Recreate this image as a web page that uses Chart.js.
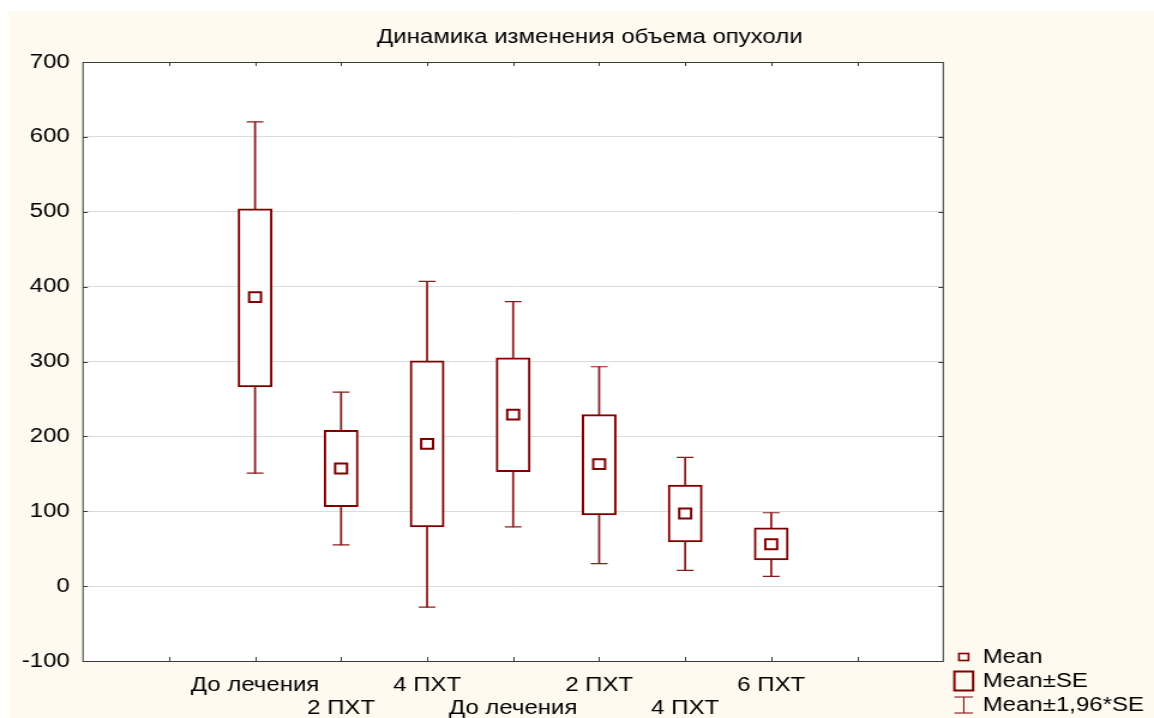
<!DOCTYPE html>
<html lang="ru">
<head>
<meta charset="utf-8">
<title>Динамика изменения объема опухоли</title>
<script src="https://cdn.jsdelivr.net/npm/chart.js@4/dist/chart.umd.min.js"></script>
<style>
  html, body { margin: 0; padding: 0; background: #ffffff; overflow: hidden; }
</style>
</head>
<body>
<!-- the drawing buffer is narrower than the page and is widened by CSS -->
<canvas id="chart" width="962" height="718" style="display:block;width:1154px;height:718px"></canvas>
<script>
// Groups (one box per measurement point)
const categories = ['До лечения', '2 ПХТ', '4 ПХТ', 'До лечения', '2 ПХТ', '4 ПХТ', '6 ПХТ'];
// Mean tumour volume
const means  = [386, 157, 190, 229, 163, 97, 56];
// Mean ± SE
const seLow  = [266, 106, 79, 153, 95, 59, 35];
const seHigh = [504, 208, 301, 305, 229, 135, 78];
// Mean ± 1,96*SE
const ciLow  = [151, 55, -28, 79, 30, 21, 13];
const ciHigh = [620, 259, 407, 380, 293, 172, 98];
// Value axis ticks
const yTicks = [-100, 0, 100, 200, 300, 400, 500, 600, 700];
const titleText = 'Динамика изменения объема опухоли';
const legendLabels = ['Mean', 'Mean±SE', 'Mean±1,96*SE'];

// two empty slots on each side of the groups
const LEAD = 2, TRAIL = 2;
const slotLabels = [...Array(LEAD).fill(''), ...categories, ...Array(TRAIL).fill('')];
const pad = arr => [...Array(LEAD).fill(null), ...arr, ...Array(TRAIL).fill(null)];

const RED = '#800000';
const PANEL = '#FFFAF0';
const FONT = '"Liberation Sans", Arial, sans-serif';

const decor = {
  id: 'decor',
  beforeDraw(chart) {
    const { ctx, width, height, chartArea: a } = chart;
    ctx.save();
    ctx.fillStyle = '#ffffff';
    ctx.fillRect(0, 0, width, height);
    ctx.fillStyle = PANEL;
    ctx.fillRect(7.5, 11, width - 7.5, height - 11);
    ctx.fillStyle = '#ffffff';
    ctx.fillRect(a.left, a.top, a.right - a.left, a.bottom - a.top);
    ctx.restore();
  },
  afterDraw(chart) {
    const { ctx, chartArea: a, scales } = chart;
    ctx.save();
    // frame
    ctx.strokeStyle = '#3a3a3a';
    ctx.lineWidth = 1;
    ctx.strokeRect(a.left, a.top + 0.5, a.right - a.left, a.bottom - a.top);
    // inward tick marks
    ctx.beginPath();
    for (let i = 1; i < slotLabels.length - 1; i++) {
      const px = Math.round(scales.x.getPixelForValue(i)) + 0.5;
      ctx.moveTo(px, a.bottom); ctx.lineTo(px, a.bottom - 4);
      ctx.moveTo(px, a.top); ctx.lineTo(px, a.top + 4);
    }
    for (const v of yTicks) {
      const py = Math.round(scales.y.getPixelForValue(v)) + 0.5;
      ctx.moveTo(a.left, py); ctx.lineTo(a.left + 4, py);
      ctx.moveTo(a.right, py); ctx.lineTo(a.right - 4, py);
    }
    ctx.stroke();

    // title
    ctx.fillStyle = '#000';
    ctx.font = '20px ' + FONT;
    ctx.textAlign = 'center';
    ctx.textBaseline = 'middle';
    ctx.fillText(titleText, 491.7, 37);

    // legend
    const lx = 803.4, tx = 819.2, rows = [657, 681, 705];
    ctx.strokeStyle = RED;
    ctx.lineWidth = 1.6;
    ctx.strokeRect(lx - 4, rows[0] - 3.5, 8, 7);
    ctx.lineWidth = 2;
    ctx.strokeRect(lx - 7.8, rows[1] - 9.5, 15.6, 19);
    ctx.lineWidth = 1;
    ctx.beginPath();
    ctx.moveTo(lx, rows[2] - 8); ctx.lineTo(lx, rows[2] + 8);
    ctx.moveTo(lx - 7.8, rows[2] - 8); ctx.lineTo(lx + 7.8, rows[2] - 8);
    ctx.moveTo(lx - 7.8, rows[2] + 8); ctx.lineTo(lx + 7.8, rows[2] + 8);
    ctx.stroke();
    ctx.fillStyle = '#000';
    ctx.textAlign = 'left';
    legendLabels.forEach((t, i) => ctx.fillText(t, tx, rows[i]));
    ctx.restore();
  }
};

new Chart(document.getElementById('chart'), {
  type: 'bar',
  data: {
    labels: slotLabels,
    datasets: [
      {
        label: 'Mean±1,96*SE',
        type: 'bar',
        data: pad(ciLow.map((v, i) => [v, ciHigh[i]])),
        backgroundColor: '#8a1c1c',
        borderWidth: 0,
        barThickness: 1.1,
        grouped: false,
        order: 4
      },
      {
        label: 'Mean±SE',
        type: 'bar',
        data: pad(seLow.map((v, i) => [v, seHigh[i]])),
        backgroundColor: '#ffffff',
        borderColor: RED,
        borderWidth: 2,
        borderSkipped: false,
        barThickness: 28.3,
        grouped: false,
        order: 3
      },
      {
        label: 'cap low',
        type: 'line',
        data: pad(ciLow),
        showLine: false,
        pointStyle: 'line',
        pointRadius: 7,
        borderColor: '#8a1c1c',
        borderWidth: 1.2,
        order: 2
      },
      {
        label: 'cap high',
        type: 'line',
        data: pad(ciHigh),
        showLine: false,
        pointStyle: 'line',
        pointRadius: 7,
        borderColor: '#8a1c1c',
        borderWidth: 1.2,
        order: 2
      },
      {
        label: 'Mean',
        type: 'line',
        data: pad(means),
        showLine: false,
        pointStyle: 'rect',
        pointRadius: 7,
        pointBackgroundColor: '#ffffff',
        pointBorderColor: RED,
        pointBorderWidth: 2,
        order: 1
      }
    ]
  },
  options: {
    responsive: false,
    animation: false,
    devicePixelRatio: 1,
    events: [],
    layout: { padding: { left: 0, right: 175.7, top: 62, bottom: 0 } },
    plugins: {
      legend: { display: false },
      title: { display: false },
      tooltip: { enabled: false }
    },
    scales: {
      x: {
        type: 'category',
        offset: false,
        grid: { display: false, drawTicks: false },
        border: { display: false },
        afterFit: s => { s.height = 57; },
        ticks: {
          autoSkip: false,
          maxRotation: 0,
          minRotation: 0,
          padding: 12.5,
          color: '#000',
          font: { family: FONT, size: 20, lineHeight: 1.15 },
          callback: function (value, index) {
            const lab = this.getLabelForValue(value);
            if (!lab) return '';
            return index % 2 === 0 ? [lab, ''] : ['', lab];
          }
        }
      },
      y: {
        min: -100,
        max: 700,
        grid: { color: '#dcdcdc', lineWidth: 1, drawTicks: false },
        border: { display: false },
        afterFit: s => { s.width = 69.2; },
        afterBuildTicks: s => { s.ticks = yTicks.map(v => ({ value: v })); },
        ticks: {
          padding: 11,
          color: '#000',
          font: { family: FONT, size: 20 }
        }
      }
    }
  },
  plugins: [decor]
});
</script>
</body>
</html>
